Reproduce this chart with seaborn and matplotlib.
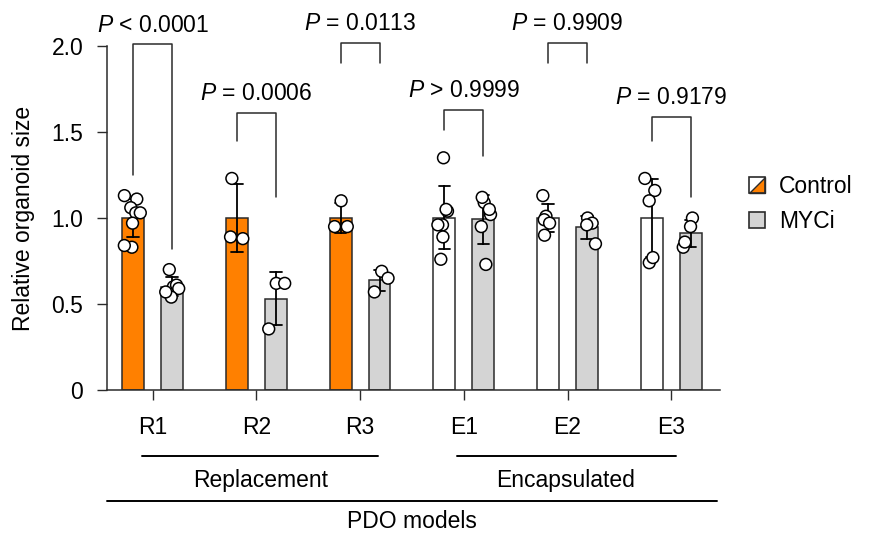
"""Relative organoid size per PDO model, Control vs MYCi."""

import matplotlib
matplotlib.use("Agg")
import matplotlib.pyplot as plt
import numpy as np
import pandas as pd
import seaborn as sns
from matplotlib.legend_handler import HandlerBase
from matplotlib.patches import Patch, Polygon, Rectangle

# --- données ---
models = ["R1", "R2", "R3", "E1", "E2", "E3"]
conditions = ["Control", "MYCi"]

control_pts = {
    "R1": [1.13, 1.11, 1.06, 1.03, 1.03, 0.97, 0.83, 0.84],
    "R2": [1.23, 0.88, 0.89],
    "R3": [1.10, 0.95, 0.95],
    "E1": [1.35, 1.04, 1.05, 0.96, 0.96, 0.89, 0.76],
    "E2": [1.13, 1.01, 0.99, 0.97, 0.90],
    "E3": [1.23, 1.16, 1.10, 0.74, 0.77],
}
myci_pts = {
    "R1": [0.70, 0.60, 0.61, 0.59, 0.54, 0.57],
    "R2": [0.62, 0.62, 0.355],
    "R3": [0.69, 0.65, 0.57],
    "E1": [1.09, 1.12, 1.02, 1.05, 0.95, 0.73],
    "E2": [1.00, 0.97, 0.96, 0.85],
    "E3": [1.00, 0.95, 0.83, 0.86],
}

p_labels = ["< 0.0001", "= 0.0006", "= 0.0113", "> 0.9999", "= 0.9909", "= 0.9179"]
bracket_top = [2.01, 1.61, 2.02, 1.63, 2.02, 1.59]
bracket_left = [1.25, 1.45, 1.90, 1.51, 1.90, 1.45]
bracket_right = [0.82, 1.12, 1.90, 1.36, 1.90, 1.12]

# nom, début, fin de la ligne, centre du texte (en unités de catégorie)
groups = [("Replacement", -0.10, 2.17, 1.04), ("Encapsulated", 2.93, 5.05, 3.98)]

ORANGE = "#FF8000"
GREY = "#D4D4D4"
EDGE = "#2b2b2b"

rows = []
for cond, pts in zip(conditions, [control_pts, myci_pts]):
    for m in models:
        for v in pts[m]:
            rows.append({"model": m, "condition": cond, "size": v})
df = pd.DataFrame(rows)

sns.set_theme(style="ticks")
plt.rcParams["font.family"] = ["Liberation Sans", "DejaVu Sans"]
plt.rcParams["mathtext.fontset"] = "custom"
plt.rcParams["mathtext.it"] = "Liberation Sans:italic"
plt.rcParams["mathtext.rm"] = "Liberation Sans"
for key in ["text.color", "axes.labelcolor", "xtick.labelcolor", "ytick.labelcolor"]:
    plt.rcParams[key] = "black"
FS = 16.5


class HalfHandler(HandlerBase):
    def create_artists(self, legend, orig_handle, xd, yd, w, h, fs, trans):
        x0, y0 = -xd, -yd
        bg = Rectangle((x0, y0), w, h, facecolor="white", edgecolor="none",
                       transform=trans)
        tri = Polygon([[x0, y0], [x0 + w, y0], [x0 + w, y0 + h]], closed=True,
                      facecolor=ORANGE, edgecolor=EDGE, lw=1, transform=trans)
        box = Rectangle((x0, y0), w, h, facecolor="none", edgecolor=EDGE,
                        lw=1.2, transform=trans)
        return [bg, tri, box]


fig = plt.figure(figsize=(8.69, 5.38), dpi=100)
ax = fig.add_axes([0.1231, 0.2751, 0.7055, 0.6394])

sns.barplot(data=df, x="model", y="size", hue="condition", order=models,
            hue_order=conditions, palette={"Control": ORANGE, "MYCi": GREY},
            saturation=1, errorbar="sd", capsize=0.22, width=0.75, gap=0.44,
            err_kws={"color": "black", "linewidth": 1.3},
            edgecolor=EDGE, linewidth=1.1, legend=False, ax=ax)

# barres Control des modèles encapsulés en blanc
for bar in ax.patches:
    xc = bar.get_x() + bar.get_width() / 2
    fc = bar.get_facecolor()
    if xc > 2.5 and fc[2] < 0.2:
        bar.set_facecolor("white")

np.random.seed(7)
sns.stripplot(data=df, x="model", y="size", hue="condition", order=models,
              hue_order=conditions, dodge=True, jitter=0.17,
              palette=["white", "white"], edgecolor="black", linewidth=1.1,
              size=8.5, legend=False, ax=ax)

ax.set_ylim(0, 2.0)
ax.set_xlim(-0.44, 5.47)
ax.set_yticks([0, 0.5, 1.0, 1.5, 2.0])
ax.set_yticklabels(["0", "0.5", "1.0", "1.5", "2.0"])
ax.set_ylabel("Relative organoid size", fontsize=FS, labelpad=12)
ax.set_xlabel("")
ax.tick_params(axis="both", labelsize=FS, length=7, width=1, color=EDGE)
ax.tick_params(axis="x", pad=12)
ax.tick_params(axis="y", pad=10)
for side in ["top", "right"]:
    ax.spines[side].set_visible(False)
for side in ["left", "bottom"]:
    ax.spines[side].set_linewidth(1.1)
    ax.spines[side].set_color(EDGE)

# --- crochets de significativité ---
off = 0.1875
for i, lab in enumerate(p_labels):
    x1, x2 = i - off, i + off
    top = bracket_top[i]
    ax.plot([x1, x1, x2, x2], [bracket_left[i], top, top, bracket_right[i]],
            color=EDGE, lw=1.1, clip_on=False)
    ax.text(i, top + 0.045, f"$P$ {lab}", ha="center", va="bottom",
            fontsize=FS, clip_on=False)

# --- regroupements sous l'axe ---
trans = ax.get_xaxis_transform()
for name, a, b, xt in groups:
    ax.plot([a, b], [-0.192, -0.192], color="black", lw=1.4,
            transform=trans, clip_on=False)
    ax.text(xt, -0.262, name, ha="center", va="center", fontsize=FS,
            transform=trans)
ax.plot([-0.44, 5.44], [-0.323, -0.323], color="black", lw=1.4,
        transform=trans, clip_on=False)
ax.text(2.5, -0.381, "PDO models", ha="center", va="center", fontsize=FS,
        transform=trans)

ctrl_handle = Patch(label="Control")
myci_handle = Patch(facecolor=GREY, edgecolor=EDGE, lw=1.2, label="MYCi")
fig.legend(handles=[ctrl_handle, myci_handle], loc="center left",
           bbox_to_anchor=(0.862, 0.621), frameon=False, fontsize=FS,
           handlelength=0.7, handleheight=0.7, handletextpad=0.6,
           labelspacing=0.55, borderpad=0, borderaxespad=0,
           handler_map={ctrl_handle: HalfHandler()})

fig.savefig("out.png", dpi=100)
